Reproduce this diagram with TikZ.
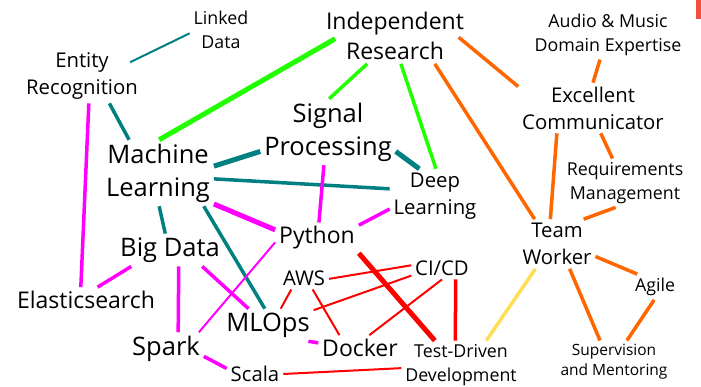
\documentclass[tikz,border=0pt]{standalone}
\usepackage{fontspec}
\setmainfont{Open Sans}
\usepackage{xcolor}
\definecolor{linkteal}{RGB}{0,128,128}
\definecolor{linkgreen}{RGB}{34,255,0}
\definecolor{linkorange}{RGB}{255,102,0}
\definecolor{linkyellow}{RGB}{255,221,85}
\definecolor{linkred}{RGB}{255,0,0}
\definecolor{linkpink}{RGB}{255,0,255}
\definecolor{tabred}{RGB}{240,80,60}

\begin{document}
\begin{tikzpicture}[x=1pt, y=-1pt,
    word/.style={inner sep=2pt, outer sep=2pt, align=center},
    wordXL/.style={word, font=\fontsize{25.5}{33}\selectfont},
    wordL/.style={word, font=\fontsize{23}{30}\selectfont},
    wordM/.style={word, font=\fontsize{20.3}{27}\selectfont},
    wordS/.style={word, font=\fontsize{17.8}{23.5}\selectfont},
    wordXS/.style={word, font=\fontsize{15.5}{20}\selectfont},
    edgeS/.style={line width=2pt},
    edgeM/.style={line width=3.5pt},
    edgeL/.style={line width=5pt}
]
    \useasboundingbox (0,0) rectangle (701,387);
    \fill[tabred] (696,0) rectangle (701,19);

    \node[wordXL] (ml) at (158,173) {Machine\\Learning};
    \node[wordXL] (sp) at (328,132) {Signal\\Processing};
    \node[wordXL] (bigdata) at (170,250) {Big Data};
    \node[wordXL] (mlops) at (268,325) {MLOps};
    \node[wordXL] (spark) at (166,349) {Spark};
    \node[wordL] (ir) at (395,36) {Independent\\Research};
    \node[wordL] (python) at (317,238) {Python};
    \node[wordL] (docker) at (360,348) {Docker};
    \node[wordL] (elastic) at (86,300) {Elasticsearch};
    \node[wordM] (entity) at (82,76) {Entity\\Recognition};
    \node[wordM] (ec) at (593,108) {Excellent\\Communicator};
    \node[wordM] (tw) at (557,244) {Team\\Worker};
    \node[wordM] (dl) at (435,196) {Deep\\Learning};
    \node[wordM] (cicd) at (442,268) {CI/CD};
    \node[wordM] (aws) at (304,278) {AWS};
    \node[wordM] (scala) at (255,374) {Scala};
    \node[wordS] (linked) at (221,30) {Linked\\Data};
    \node[wordS] (audio) at (608,35) {Audio \& Music\\Domain Expertise};
    \node[wordS] (rm) at (625,183) {Requirements\\Management};
    \node[wordS] (tdd) at (461,365) {Test-Driven\\Development};
    \node[wordS] (agile) at (655,287) {Agile};
    \node[wordXS] (sup) at (614,362) {Supervision\\and Mentoring};

    % machine learning cluster
    \draw[edgeS, linkteal, shorten <=-13pt] (entity.18) -- (linked.186);
    \draw[edgeM, linkteal] (entity.315) -- (ml.131);
    \draw[edgeL, linkteal] (ml.7) -- (sp.196);
    \draw[edgeM, linkteal] (ml.354) -- (dl.171);
    \draw[edgeL, linkteal] (sp.344) -- (dl.120);
    \draw[edgeM, linkteal] (ml.272) -- (bigdata.106);
    \draw[edgeM, linkteal] (ml.324) -- (mlops.101);

    % research
    \draw[edgeL, linkgreen, shorten <=-15pt] (ir.188) -- (ml.88);
    \draw[edgeM, linkgreen] (ir.225) -- (sp.88);
    \draw[edgeM, linkgreen] (ir.282) -- (dl.88);

    % soft skills
    \draw[edgeM, linkorange, shorten <=-12pt] (ir.353) -- (ec.164);
    \draw[edgeM, linkorange] (ir.325) -- (tw.132);
    \draw[edgeM, linkorange] (audio.252) -- (ec.90);
    \draw[edgeM, linkorange] (ec.287) -- (rm.117);
    \draw[edgeM, linkorange] (ec.215) -- (tw.105);
    \draw[edgeM, linkorange] (rm.249) -- (tw.43);
    \draw[edgeM, linkorange] (tw.342) -- (agile.144);
    \draw[edgeM, linkorange] (tw.297) -- (sup.123);
    \draw[edgeM, linkorange] (agile.266) -- (sup.59);
    \draw[edgeM, linkyellow] (tw.229) -- (tdd.44);

    % data tools
    \draw[edgeM, linkpink] (entity.284) -- (elastic.112);
    \draw[edgeM, linkpink] (bigdata.203) -- (elastic.48);
    \draw[edgeM, linkpink] (bigdata.298) -- (spark.54);
    \draw[edgeM, linkpink] (bigdata.333) -- (mlops.140);
    \draw[edgeL, linkpink] (ml.331) -- (python.169);
    \draw[edgeM, linkpink] (sp.263) -- (python.83);
    \draw[edgeM, linkpink] (python.17) -- (dl.196);
    \draw[edgeS, linkpink] (python.186) -- (spark.27);
    \draw[edgeM, linkpink] (spark.349) -- (scala.169);
    \draw[edgeM, linkpink] (mlops.338) -- (docker.173);

    % engineering
    \draw[edgeL, linkred] (python.340) -- (tdd.137);
    \draw[edgeS, linkred] (aws.358) -- (cicd.175);
    \draw[edgeS, linkred] (mlops.18) -- (cicd.194);
    \draw[edgeS, linkred] (aws.222) -- (mlops.52);
    \draw[edgeS, linkred] (aws.307) -- (docker.148);
    \draw[edgeS, linkred] (docker.54) -- (cicd.270);
    \draw[edgeM, linkred] (cicd.320) -- (tdd.103);
    \draw[edgeS, linkred] (scala.0) -- (tdd.183);
\end{tikzpicture}
\end{document}
